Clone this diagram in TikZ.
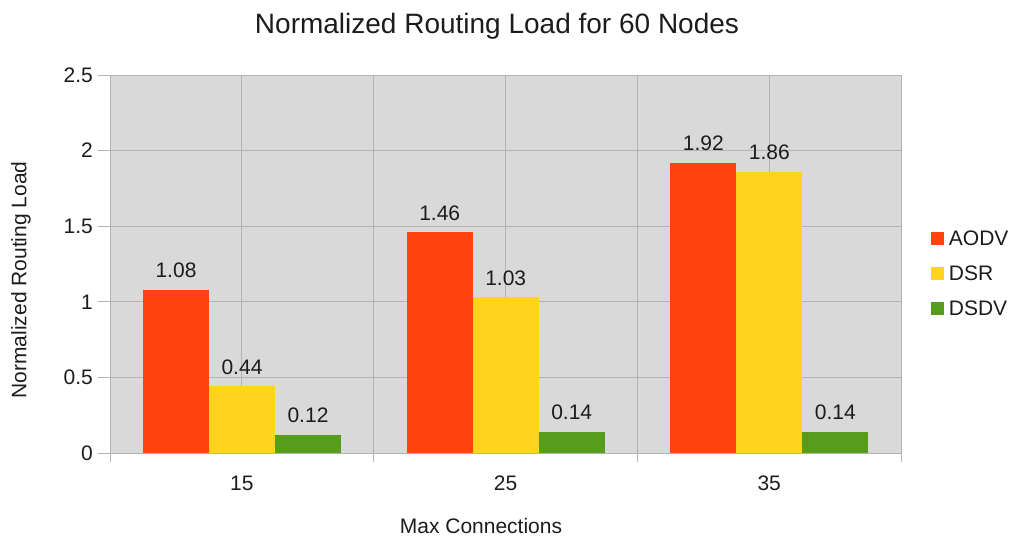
\documentclass[tikz,border=0pt]{standalone}
\usepackage{fontspec}
\setmainfont{Liberation Sans}
\usepackage{tikz}
\usetikzlibrary{positioning}
\definecolor{aodvred}{RGB}{255,66,14}
\definecolor{dsryellow}{RGB}{255,211,32}
\definecolor{dsdvgreen}{RGB}{87,157,28}
\definecolor{plotbg}{RGB}{217,217,217}
\definecolor{gridgray}{RGB}{179,179,179}
\definecolor{inkdark}{RGB}{28,28,28}

\begin{document}
\begin{tikzpicture}[x=1pt, y=-1pt,
	every node/.style={text=inkdark, inner sep=0pt, font=\fontsize{21}{24}\selectfont},
	gridline/.style={gridgray, line width=1pt},
	valuelabel/.style={anchor=base, yshift=12pt},
	keybox/.style={minimum size=13pt},
	]
	\useasboundingbox (0,0) rectangle (1019,539);
	
	%----------------------------------------------------------------
	\node(title) [anchor=base, font=\fontsize{28}{32}\selectfont] at (497,33) {Normalized Routing Load for 60 Nodes};
	\node(xlabel) [anchor=base] at (481,533) {Max Connections};
	\node(ylabel) [rotate=90] at (21,280) {Normalized Routing Load};
	
	%----------------------------------------------------------------
	\begin{scope}[shift={(110,453)}, x=1pt, y=151.2pt]
		\fill [plotbg] (0,0) rectangle (791,2.5);
		
		% grid
		\draw [gridline] (0,0.5) -- (791,0.5);
		\draw [gridline] (0,1) -- (791,1);
		\draw [gridline] (0,1.5) -- (791,1.5);
		\draw [gridline] (0,2) -- (791,2);
		\draw [gridline] (-12pt,2.5) -- (791,2.5);
		\draw [gridline] (131.8,0) -- (131.8,2.5);
		\draw [gridline] (263.7,0) -- (263.7,2.5);
		\draw [gridline] (395.5,0) -- (395.5,2.5);
		\draw [gridline] (527.3,0) -- (527.3,2.5);
		\draw [gridline] (659.2,0) -- (659.2,2.5);
		\draw [gridline] (791,0) -- (791,2.5);
		
		%----------------------------------------------------------------
		% 15 connections
		\fill [aodvred] (33,0) rectangle (99,1.08);
		\fill [dsryellow] (99,0) rectangle (165,0.44);
		\fill [dsdvgreen] (165,0) rectangle (231,0.12);
		\node(v15a) [valuelabel] at (66,1.08) {1.08};
		\node(v15b) [valuelabel] at (132,0.44) {0.44};
		\node(v15c) [valuelabel] at (198,0.12) {0.12};
		
		% 25 connections
		\fill [aodvred] (296.7,0) rectangle (362.7,1.46);
		\fill [dsryellow] (362.7,0) rectangle (428.7,1.03);
		\fill [dsdvgreen] (428.7,0) rectangle (494.7,0.14);
		\node(v25a) [valuelabel] at (329.7,1.46) {1.46};
		\node(v25b) [valuelabel] at (395.7,1.03) {1.03};
		\node(v25c) [valuelabel] at (461.7,0.14) {0.14};
		
		% 35 connections
		\fill [aodvred] (560.3,0) rectangle (626.3,1.92);
		\fill [dsryellow] (626.3,0) rectangle (692.3,1.86);
		\fill [dsdvgreen] (692.3,0) rectangle (758.3,0.14);
		\node(v35a) [valuelabel] at (593.3,1.92) {1.92};
		\node(v35b) [valuelabel] at (659.3,1.86) {1.86};
		\node(v35c) [valuelabel] at (725.3,0.14) {0.14};
		
		%----------------------------------------------------------------
		% axes and ticks
		\draw [gridline] (0,2.5) -- (0,0) -- (791,0);
		\draw [gridline] (-12pt,0) -- (0,0);
		\draw [gridline] (-12pt,0.5) -- (0,0.5);
		\draw [gridline] (-12pt,1) -- (0,1);
		\draw [gridline] (-12pt,1.5) -- (0,1.5);
		\draw [gridline] (-12pt,2) -- (0,2);
		\draw [gridline] (0,0) -- ++(0,-9pt);
		\draw [gridline] (263.7,0) -- ++(0,-9pt);
		\draw [gridline] (527.3,0) -- ++(0,-9pt);
		\draw [gridline] (791,0) -- ++(0,-9pt);
		
		\node(y0) [anchor=east] at (-17pt,0) {0};
		\node(y05) [anchor=east] at (-17pt,0.5) {0.5};
		\node(y1) [anchor=east] at (-17pt,1) {1};
		\node(y15) [anchor=east] at (-17pt,1.5) {1.5};
		\node(y2) [anchor=east] at (-17pt,2) {2};
		\node(y25) [anchor=east] at (-17pt,2.5) {2.5};
		
		\node(x15) [anchor=base] at (131.8,0) [yshift=-37pt] {15};
		\node(x25) [anchor=base] at (395.5,0) [yshift=-37pt] {25};
		\node(x35) [anchor=base] at (659.2,0) [yshift=-37pt] {35};
	\end{scope}
	
	%----------------------------------------------------------------
	% legend
	\node(keyaodv) [keybox, fill=aodvred] at (937,238) {};
	\node(keydsr) [keybox, fill=dsryellow] at (937,273) {};
	\node(keydsdv) [keybox, fill=dsdvgreen] at (937,308) {};
	\node(aodv) [right=5pt of keyaodv] {AODV};
	\node(dsr) [right=5pt of keydsr] {DSR};
	\node(dsdv) [right=5pt of keydsdv] {DSDV};
\end{tikzpicture}
\end{document}
